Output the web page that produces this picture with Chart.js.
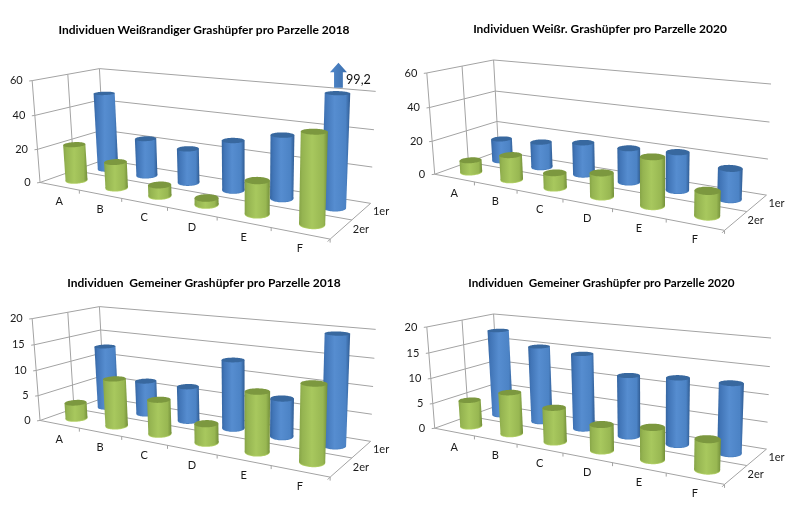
<!DOCTYPE html>
<html lang="de">
<head>
<meta charset="utf-8">
<title>Grashüpfer pro Parzelle</title>
<script src="https://cdn.jsdelivr.net/npm/chart.js@4/dist/chart.umd.min.js"></script>
<style>
  html, body { margin: 0; padding: 0; background: #fff; }
  body { position: relative; width: 800px; height: 524px; overflow: hidden; }
  .panel { position: absolute; }
</style>
</head>
<body>
<div class="panel" style="left:0;top:0;width:408px;height:262px"><canvas id="c0"></canvas></div>
<div class="panel" style="left:380px;top:0;width:440px;height:262px"><canvas id="c1"></canvas></div>
<div class="panel" style="left:0;top:262px;width:408px;height:262px"><canvas id="c2"></canvas></div>
<div class="panel" style="left:380px;top:262px;width:443px;height:262px"><canvas id="c3"></canvas></div>
<script>
// Plot categories and depth series
const parzellen = ['A', 'B', 'C', 'D', 'E', 'F'];
const reihen = ['1er', '2er'];

// Individuals per plot
const weissrandig2018_1er = [47.5, 22.5, 20, 28.5, 35, 99.2];
const weissrandig2018_2er = [21.5, 15, 6, 3.4, 17.5, 46];
const weissrandig2020_1er = [13.5, 15.3, 18.8, 19.4, 21.2, 16.5];
const weissrandig2020_2er = [7, 14.3, 8.3, 12.8, 25.8, 12.7];
const gemein2018_1er = [12.7, 6.6, 6.7, 13, 7, 19.6];
const gemein2018_2er = [3.1, 9.1, 6.4, 3.4, 10.5, 13.1];
const gemein2020_1er = [17.6, 15.2, 14.7, 11.6, 12.3, 12.5];
const gemein2020_2er = [5.2, 8, 6.4, 4.7, 5.7, 5.2];

const FONT = 'Lato, "Open Sans", sans-serif';
const GRID = '#a3a3a3';

// Perspective box of the left-hand and right-hand panels, as page pixels of its corners.
// Each corner is [u, v, w, x, y]: u along the plots, v up the value axis, w into the depth.
const boxLeft = [
  [0, 1, 0, 32.3, 80.7], [0, 0, 0, 40, 181.7],
  [0, 1, 1, 99.3, 68.3], [0, 0, 1, 104.3, 160.7],
  [1, 1, 1, 375.7, 91.7], [1, 0, 1, 370.7, 202.3],
  [1, 0, 0, 330, 240]
];
const boxRight = [
  [0, 1, 0, 426.7, 72.7], [0, 0, 0, 435, 174],
  [0, 1, 1, 493.7, 60], [0, 0, 1, 498.3, 151.7],
  [1, 1, 1, 771, 84.3], [1, 0, 1, 766.7, 194.3],
  [1, 0, 0, 724.3, 231]
];

// Projection and annotation of each chart, by canvas
const panelInfo = new Map();

// Least-squares fit of the 3x4 projection that carries the box into the page
function fitProjection(corners) {
  const n = 11;
  const A = Array.from({ length: n }, () => new Array(n + 1).fill(0));
  const addRow = (row, rhs) => {
    for (let i = 0; i < n; i++) {
      for (let j = 0; j < n; j++) A[i][j] += row[i] * row[j];
      A[i][n] += row[i] * rhs;
    }
  };
  for (const [u, v, w, x, y] of corners) {
    addRow([u, v, w, 1, 0, 0, 0, 0, -x * u, -x * v, -x * w], x);
    addRow([0, 0, 0, 0, u, v, w, 1, -y * u, -y * v, -y * w], y);
  }
  for (let i = 0; i < n; i++) {
    let p = i;
    for (let r = i + 1; r < n; r++) if (Math.abs(A[r][i]) > Math.abs(A[p][i])) p = r;
    [A[i], A[p]] = [A[p], A[i]];
    for (let r = 0; r < n; r++) {
      if (r === i) continue;
      const f = A[r][i] / A[i][i];
      for (let c = i; c <= n; c++) A[r][c] -= f * A[i][c];
    }
  }
  const m = A.map((row, i) => row[n] / row[i]);
  return (u, v, w) => {
    const d = m[8] * u + m[9] * v + m[10] * w + 1;
    return {
      x: (m[0] * u + m[1] * v + m[2] * w + m[3]) / d,
      y: (m[4] * u + m[5] * v + m[6] * w + m[7]) / d
    };
  };
}

const PALETTE = {
  '1er': { stops: ['#34649f', '#4175b7', '#568dd0', '#4c83c5', '#2f5b92'], top: '#38689f', rim: '#4a80c0' },
  '2er': { stops: ['#86a447', '#95b451', '#a8c85e', '#98b752', '#738f3a'], top: '#7c983f', rim: '#b2d066' }
};
const RADIUS_U = 0.035;
const RADIUS_W = 0.11;

function drawCylinder(ctx, project, u, v, w, colours) {
  const ring = (level) => {
    const pts = [];
    for (let k = 0; k < 64; k++) {
      const t = (k / 64) * Math.PI * 2;
      pts.push(project(u + RADIUS_U * Math.cos(t), level, w + RADIUS_W * Math.sin(t)));
    }
    return pts;
  };
  const top = ring(v);
  const base = ring(0);
  const extreme = (pts, sign) => pts.reduce((a, b) => (sign * b.x > sign * a.x ? b : a));
  const tl = extreme(top, -1), tr = extreme(top, 1), bl = extreme(base, -1), br = extreme(base, 1);

  const grad = ctx.createLinearGradient(Math.min(tl.x, bl.x), 0, Math.max(tr.x, br.x), 0);
  [0, 0.12, 0.45, 0.84, 1].forEach((s, i) => grad.addColorStop(s, colours.stops[i]));

  const outline = (pts) => {
    ctx.beginPath();
    pts.forEach((p, i) => (i ? ctx.lineTo(p.x, p.y) : ctx.moveTo(p.x, p.y)));
    ctx.closePath();
  };
  ctx.fillStyle = colours.rim;
  ctx.save();
  ctx.translate(0, 0.8);
  outline(base);
  ctx.fill();
  ctx.restore();
  ctx.fillStyle = grad;
  outline(base);
  ctx.fill();
  ctx.beginPath();
  ctx.moveTo(tl.x, tl.y);
  ctx.lineTo(tr.x, tr.y);
  ctx.lineTo(br.x, br.y);
  ctx.lineTo(bl.x, bl.y);
  ctx.closePath();
  ctx.fill();
  ctx.fillStyle = colours.top;
  outline(top);
  ctx.fill();
}

// Bar controller that lays its bars out through the usual scales and paints them as cylinders
class CylinderController extends Chart.BarController {
  static id = 'cylinder';
  static defaults = {};
  draw() {
    const meta = this._cachedMeta;
    const { left, right } = this.chart.chartArea;
    const yScale = meta.vScale;
    const ds = this.getDataset();
    const { project } = panelInfo.get(this.chart.canvas.id);
    for (const el of meta.data) {
      if (el.hidden) continue;
      const u = (el.x - left) / (right - left);
      const raw = (yScale.bottom - el.y) / (yScale.bottom - yScale.top);
      drawCylinder(this._ctx, project, u, Math.min(raw, 1), ds.depth, PALETTE[ds.label]);
    }
  }
}
Chart.register(CylinderController);

// Walls, floor, ticks and axis labels of the box
const box3d = {
  id: 'box3d',
  beforeDatasetsDraw(chart) {
    const { ctx } = chart;
    const P = panelInfo.get(chart.canvas.id).project;
    const yTicks = chart.scales.y.ticks;
    const yMax = chart.scales.y.max;
    const line = (a, b) => {
      ctx.beginPath();
      ctx.moveTo(a.x, a.y);
      ctx.lineTo(b.x, b.y);
      ctx.stroke();
    };
    ctx.save();
    ctx.strokeStyle = GRID;
    ctx.lineWidth = 1;
    for (const t of yTicks) {
      const v = t.value / yMax;
      const bl = P(0, v, 1);
      line(P(0, v, 0), bl);
      line(bl, P(1, v, 1));
      const f = P(0, v, 0);
      line(f, { x: f.x - 3, y: f.y + 0.4 });
    }
    [0, 0.5, 1].forEach((w) => line(P(0, 1, w), P(0, 0, w)));
    line(P(0, 0, 0.5), P(1, 0, 0.5));
    line(P(0, 0, 0), P(1, 0, 0));
    line(P(1, 0, 0), P(1, 0, 1));
    parzellen.forEach((_, i) => {
      const p = P((i + 1) / parzellen.length, 0, 0);
      line(p, { x: p.x, y: p.y + 3.5 });
    });
    const c = P(1, 0, 0);
    line(c, { x: c.x - 2.5, y: c.y + 2.5 });
    ctx.restore();
  },
  afterDraw(chart) {
    const { ctx } = chart;
    const info = panelInfo.get(chart.canvas.id);
    const P = info.project;
    ctx.save();
    ctx.fillStyle = '#1a1a1a';
    ctx.font = `11px ${FONT}`;
    ctx.textBaseline = 'middle';
    ctx.textAlign = 'right';
    for (const t of chart.scales.y.ticks) {
      const p = P(0, t.value / chart.scales.y.max, 0);
      ctx.fillText(String(t.value), p.x - 9.5, p.y);
    }
    ctx.textAlign = 'center';
    parzellen.forEach((name, i) => {
      const p = P((i + 0.5) / parzellen.length, 0, 0);
      ctx.fillText(name, p.x, p.y + 15);
    });
    reihen.forEach((name, i) => {
      const p = P(1, 0, i === 0 ? 0.75 : 0.25);
      ctx.fillText(name, p.x + 19.5, p.y);
    });
    if (info.note) drawNote(ctx, P, chart, info.note);
    ctx.restore();
  }
};

// Upward block arrow and value for a bar that leaves the value axis
function drawNote(ctx, P, chart, note) {
  const dataset = chart.data.datasets[note.datasetIndex];
  const i = dataset.data.indexOf(note.value);
  const p = P((i + 0.5) / parzellen.length, 1, dataset.depth);
  const cx = p.x + 1, bottom = p.y - 5.5;
  const grad = ctx.createLinearGradient(cx - 8, 0, cx + 8, 0);
  grad.addColorStop(0, '#4f86c9');
  grad.addColorStop(1, '#3d70ae');
  ctx.fillStyle = grad;
  ctx.beginPath();
  ctx.moveTo(cx, bottom - 25);
  ctx.lineTo(cx + 8.5, bottom - 15.5);
  ctx.lineTo(cx + 4.4, bottom - 15.5);
  ctx.lineTo(cx + 4.4, bottom);
  ctx.lineTo(cx - 4.4, bottom);
  ctx.lineTo(cx - 4.4, bottom - 15.5);
  ctx.lineTo(cx - 8.5, bottom - 15.5);
  ctx.closePath();
  ctx.fill();
  ctx.fillStyle = '#111';
  ctx.font = `12.6px ${FONT}`;
  ctx.textAlign = 'left';
  ctx.textBaseline = 'middle';
  ctx.fillText(String(note.value).replace('.', ','), cx + 7.6, bottom - 8);
}

function shifted(corners, dx, dy) {
  return corners.map(([u, v, w, x, y]) => [u, v, w, x - dx, y - dy]);
}

function makePanel(id, spec) {
  panelInfo.set(id, {
    project: fitProjection(shifted(spec.box, spec.originX, spec.originY)),
    note: spec.note || null
  });
  new Chart(document.getElementById(id), {
    type: 'cylinder',
    data: {
      labels: parzellen,
      datasets: [
        { label: reihen[0], data: spec.back, depth: 0.75, order: 1, clip: false, grouped: false },
        { label: reihen[1], data: spec.front, depth: 0.25, order: 0, clip: false, grouped: false }
      ]
    },
    options: {
      responsive: false,
      animation: false,
      events: [],
      layout: { padding: 0 },
      scales: {
        x: { type: 'category', display: false, offset: true },
        y: { type: 'linear', display: false, min: 0, max: spec.max, ticks: { stepSize: spec.step } }
      },
      plugins: {
        legend: { display: false },
        tooltip: { enabled: false },
        title: {
          display: true,
          text: spec.title,
          color: '#000',
          font: { family: FONT, weight: 'bold', size: spec.titleSize || 12 },
          padding: { top: spec.titleTop, bottom: 4 }
        }
      }
    },
    plugins: [box3d]
  });
}

function sizeCanvas(id) {
  const c = document.getElementById(id);
  c.width = c.parentElement.clientWidth;
  c.height = c.parentElement.clientHeight;
}
['c0', 'c1', 'c2', 'c3'].forEach(sizeCanvas);

makePanel('c0', {
  title: 'Individuen Weißrandiger Grashüpfer pro Parzelle 2018',
  back: weissrandig2018_1er, front: weissrandig2018_2er, max: 60, step: 20,
  box: boxLeft, originX: 0, originY: 0, titleTop: 23,
  note: { datasetIndex: 0, value: 99.2 }
});
makePanel('c1', {
  title: 'Individuen Weißr. Grashüpfer pro Parzelle 2020',
  back: weissrandig2020_1er, front: weissrandig2020_2er, max: 60, step: 20,
  box: boxRight, originX: 380, originY: 0, titleTop: 22
});
makePanel('c2', {
  title: 'Individuen  Gemeiner Grashüpfer pro Parzelle 2018',
  back: gemein2018_1er, front: gemein2018_2er, max: 20, step: 5,
  box: boxLeft, originX: 0, originY: 24, titleTop: 14
});
makePanel('c3', {
  title: 'Individuen  Gemeiner Grashüpfer pro Parzelle 2020',
  back: gemein2020_1er, front: gemein2020_2er, max: 20, step: 5,
  box: boxRight, originX: 380, originY: 8, titleTop: 14, titleSize: 11.7
});
</script>
</body>
</html>
